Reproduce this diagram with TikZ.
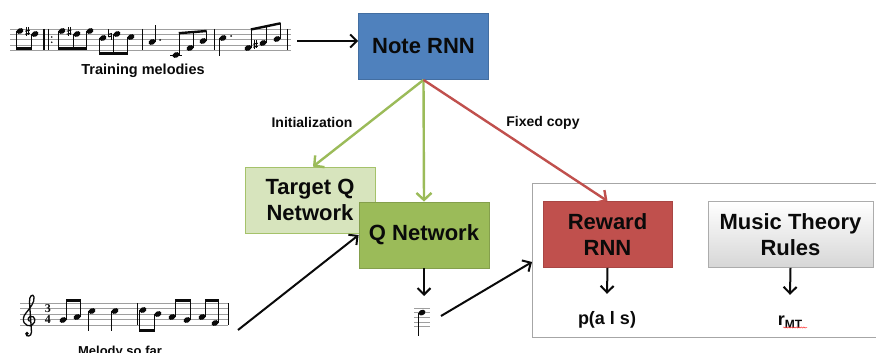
\documentclass[tikz,border=0pt]{standalone}
\usepackage{fontspec}
\setmainfont{Liberation Sans}
\newfontfamily\numfont{Liberation Serif}
\usetikzlibrary{arrows.meta,decorations.pathmorphing}

\definecolor{noteblue}{HTML}{4F81BD}
\definecolor{tqgreen}{HTML}{D7E4BD}
\definecolor{qgreen}{HTML}{9BBB59}
\definecolor{rewardred}{HTML}{C0504D}
\definecolor{inkblack}{HTML}{0A0A0A}
\definecolor{panelgray}{HTML}{A6A6A6}

% music helpers: note head, staff, sharp, natural
\newcommand\mhead[2]{\fill (#1,#2) circle[x radius=3.6pt,y radius=2.7pt,rotate=25];}
\newcommand\mstaff[4]{\foreach \i in {0,...,4}{\draw[staffline] (#1,{#3+\i*#4}) -- (#2,{#3+\i*#4});}}
\newcommand\msharp[2]{%
  \draw[line width=0.5pt] ({#1-1},{#2-4.5}) -- ({#1-1},{#2+4}) ({#1+1},{#2-5}) -- ({#1+1},{#2+3.5});
  \draw[line width=1pt] ({#1-2.3},{#2-0.8}) -- ({#1+2.3},{#2-1.8}) ({#1-2.3},{#2+2.2}) -- ({#1+2.3},{#2+1.2});}
\newcommand\mnatural[2]{%
  \draw[line width=0.5pt] ({#1-1.5},{#2-5.5}) -- ({#1-1.5},{#2+2}) ({#1+1.5},{#2-2}) -- ({#1+1.5},{#2+5.5});
  \draw[line width=1pt] ({#1-1.5},{#2-0.5}) -- ({#1+1.5},{#2-1.5}) ({#1-1.5},{#2+2}) -- ({#1+1.5},{#2+1});}

\tikzset{
  box/.style={draw, line width=0.8pt, align=center, inner sep=0pt,
    minimum width=130pt, minimum height=66pt, text=inkblack,
    font=\bfseries\fontsize{22}{26}\selectfont},
  lbl/.style={text=inkblack, inner sep=0pt, font=\bfseries\fontsize{14}{16}\selectfont},
  outlbl/.style={text=inkblack, inner sep=0pt, text height=13pt, text depth=4pt,
    font=\bfseries\fontsize{18}{20}\selectfont},
  arr/.style={draw=inkblack, line width=2pt, -{Straight Barb[length=6.5pt,width=13pt]}},
  garr/.style={draw=qgreen, line width=2.4pt, -{Straight Barb[length=7pt,width=15pt]}},
  rarr/.style={draw=rewardred, line width=2.4pt, -{Straight Barb[length=7pt,width=15pt]}},
  staffline/.style={draw=gray!75, line width=0.6pt},
  stem/.style={line width=0.8pt},
  beam/.style={line width=2.4pt},
  barline/.style={line width=0.8pt},
}

\begin{document}
\begin{tikzpicture}[x=1pt,y=-1pt]
\useasboundingbox (0,0) rectangle (876,353);

% ---- boxes ----
\node[box, fill=noteblue, draw=noteblue!85!black] (note) at (423.5,46.5) {Note RNN};
\node[box, fill=tqgreen, draw=qgreen!90] (tq) at (310,200) {Target Q\\Network};
\node[box, fill=qgreen, draw=qgreen!85!black] (q) at (424,235) {Q Network};
\node[draw=panelgray, line width=0.9pt, fill=white, anchor=north west,
      minimum width=380pt, minimum height=154pt, inner sep=0pt] (panel) at (532,183) {};
\node[box, fill=rewardred, draw=rewardred!88!black, minimum width=129pt] (rr) at (607.5,234.5) {Reward\\RNN};
\node[box, top color=white, bottom color=gray!32, draw=gray!65, minimum width=165pt] (mt) at (790.5,234.5) {Music Theory\\Rules};

% ---- outputs of the reward panel ----
\node[outlbl, anchor=base] (pas) at (607,324) {p(a l s)};
\node[outlbl, anchor=base] (rmt) at (790,325) {r\raisebox{-0.35ex}{\fontsize{12}{12}\selectfont MT}};
\draw[red!80, line width=0.5pt, decorate, decoration={snake, amplitude=0.6pt, segment length=2.5pt}]
  (783,327.5) -- (807,327.5);
\draw[arr] (rr.south) -- ([yshift=17pt]pas.north);
\draw[arr] (mt.south) -- ([yshift=17pt]rmt.north);

% ---- copies out of the Note RNN ----
\draw[garr] (note.south) -- ([xshift=3pt]tq.north);
\draw[garr] (note.south) -- (q.north);
\draw[rarr] (note.south) -- (rr.north);
\node[lbl] (initlbl) at (312,122) {Initialization};
\node[lbl] (fixlbl) at (543,123) {Fixed copy};

% ---- training melodies ----
\mstaff{10}{291}{29}{5.3}
\begin{scope}[inkblack]
  % pick-up beat
  \mhead{20}{31} \mhead{35}{34} \msharp{27.5}{32}
  \draw[stem] (16.8,31) -- (16.8,49) (31.8,34) -- (31.8,49);
  \draw[beam] (16.4,48.5) -- (32.2,48.5);
  % repeat sign
  \draw[line width=2.6pt] (44,29) -- (44,50.2);
  \draw[barline] (48.5,29) -- (48.5,50.2);
  \fill (51.8,37) circle (0.9) (51.8,42.3) circle (0.9);
  % bar 1
  \mhead{62}{31} \mhead{77}{34} \mhead{90}{31} \msharp{69}{32}
  \draw[stem] (58.8,31) -- (58.8,49) (73.8,34) -- (73.8,49) (86.8,31) -- (86.8,49);
  \draw[beam] (58.4,48.5) -- (87.2,48.5);
  \mhead{103}{38} \mhead{117}{34} \mhead{131}{37} \mnatural{110}{35}
  \draw[stem] (99.8,38) -- (99.8,54) (113.8,34) -- (113.8,54) (127.8,37) -- (127.8,54);
  \draw[beam] (99.4,53.5) -- (128.2,53.5);
  \draw[barline] (142,29) -- (142,50.2);
  % bar 2
  \mhead{152}{42} \draw[stem] (155.2,42) -- (155.2,25); \fill (160,40) circle (1);
  \draw[line width=0.6pt] (170,55.5) -- (182,55.5);
  \mhead{176}{55} \mhead{190}{48} \mhead{203}{41}
  \draw[stem] (179.2,55) -- (179.2,33) (193.2,48) -- (193.2,32.2) (206.2,41) -- (206.2,31);
  \draw[beam] (178.8,33.2) -- (206.6,31);
  \draw[barline] (214,29) -- (214,50.2);
  % bar 3
  \mhead{223}{38} \draw[stem] (219.8,38) -- (219.8,56); \fill (231,36) circle (1);
  \mhead{248}{48} \mhead{263}{43} \mhead{277}{39} \msharp{255.5}{45}
  \draw[stem] (251.2,48) -- (251.2,29.5) (266.2,43) -- (266.2,26.3) (280.2,39) -- (280.2,23.5);
  \draw[beam] (250.8,29.5) -- (280.6,23.3);
  \draw[barline] (287,29) -- (287,50.2);
\end{scope}
\node[lbl, font=\bfseries\fontsize{14.5}{16}\selectfont] (trainlbl) at (143,71) {Training melodies};
\coordinate (trainEnd) at (297,41);
\draw[arr] (trainEnd) -- (trainEnd -| note.west);

% ---- melody so far ----
\mstaff{20}{228}{303}{5.5}
\begin{scope}[inkblack]
  % treble clef
  \draw[line width=1.3pt] (31,321) .. controls (28,322) and (27,318) .. (30,316.5)
    .. controls (35,315) and (37,322) .. (32,325)
    .. controls (25,328) and (20,320) .. (26,313)
    .. controls (30,308) and (35,302) .. (34,297)
    .. controls (33,293) and (29,296) .. (29.5,302) -- (31.5,332)
    .. controls (31.5,337) and (26,337) .. (26,334);
  \fill (27,333.5) circle (1.9);
  \node[font=\numfont\bfseries\fontsize{12}{12}\selectfont, inner sep=0pt] (tsup) at (48,308.7) {3};
  \node[font=\numfont\bfseries\fontsize{12}{12}\selectfont, inner sep=0pt] (tsdown) at (48,319.7) {4};
  % bar 1
  \mhead{63}{320} \mhead{77}{317}
  \draw[stem] (66.2,320) -- (66.2,300) (80.2,317) -- (80.2,300);
  \draw[beam] (65.8,300.5) -- (80.6,300.5);
  \mhead{92}{311} \draw[stem] (88.8,311) -- (88.8,331);
  \mhead{115}{311} \draw[stem] (111.8,311) -- (111.8,331);
  \draw[barline] (137,303) -- (137,325);
  % bar 2
  \mhead{143}{310} \mhead{158}{314}
  \draw[stem] (139.8,310) -- (139.8,331) (154.8,314) -- (154.8,331);
  \draw[beam] (139.4,330.5) -- (155.2,330.5);
  \mhead{172}{317} \mhead{187}{320}
  \draw[stem] (175.2,317) -- (175.2,300) (190.2,320) -- (190.2,300);
  \draw[beam] (174.8,300.5) -- (190.6,300.5);
  \mhead{202}{317} \mhead{215}{323}
  \draw[stem] (205.2,317) -- (205.2,300) (218.2,323) -- (218.2,300);
  \draw[beam] (204.8,300.5) -- (218.6,300.5);
  \draw[barline] (228,303) -- (228,325);
\end{scope}
\node[lbl, font=\bfseries\fontsize{13}{15}\selectfont, anchor=base] (mellbl) at (120,355) {Melody so far};
\coordinate (melEnd) at (238,330);
\draw[arr] (melEnd) -- (q.west);

% ---- chosen note ----
\foreach \i in {0,...,4}{\draw[staffline] (414,{308+\i*4.6}) -- (430,{308+\i*4.6});}
\begin{scope}[inkblack]
  \mhead{422}{312.6}
  \draw[stem] (418.8,313) -- (418.8,336);
\end{scope}
\coordinate (iconTop) at (424,296);
\coordinate (iconRight) at (441,316);
\draw[arr] (q.south) -- (iconTop);
\draw[arr] (iconRight) -- ([yshift=-79pt]panel.north west);
\end{tikzpicture}
\end{document}
